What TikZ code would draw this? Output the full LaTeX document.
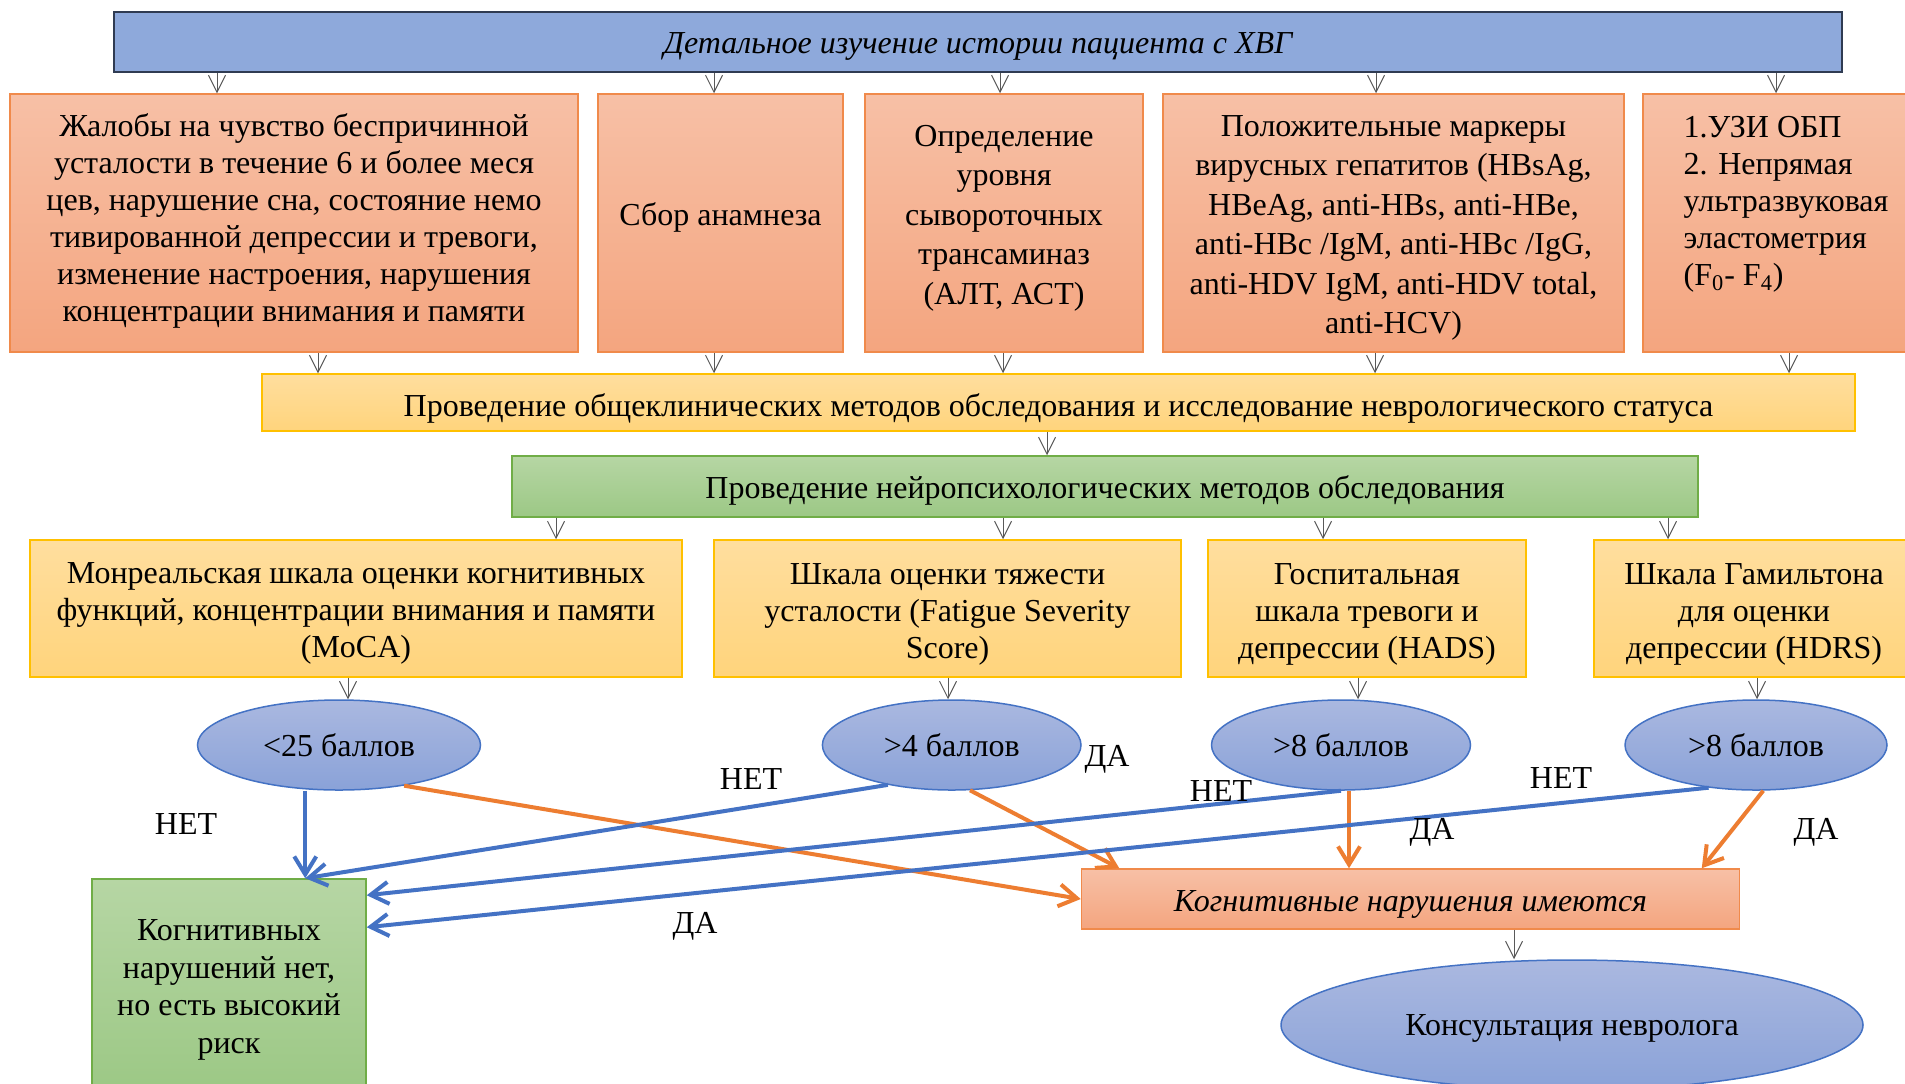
\documentclass[tikz,border=0pt]{standalone}
\usepackage{fontspec}
\setmainfont{Liberation Serif}
\usetikzlibrary{arrows.meta,calc,shapes.geometric}
\definecolor{bluebox}{HTML}{8EA9DB}
\definecolor{blueborder}{HTML}{2F3B52}
\definecolor{orTop}{HTML}{F7C0A6}
\definecolor{orBot}{HTML}{F4A57F}
\definecolor{orBorder}{HTML}{F08A4B}
\definecolor{yeTop}{HTML}{FFDE9E}
\definecolor{yeBot}{HTML}{FFD47C}
\definecolor{yeBorder}{HTML}{FFC000}
\definecolor{grTop}{HTML}{B6D6A4}
\definecolor{grBot}{HTML}{9CC885}
\definecolor{grBorder}{HTML}{70AD47}
\definecolor{elTop}{HTML}{AAB8E0}
\definecolor{elBot}{HTML}{8AA2D8}
\definecolor{elBorder}{HTML}{4472C4}
\definecolor{lineBlue}{HTML}{4472C4}
\definecolor{lineOrange}{HTML}{ED7D31}
\definecolor{arrGray}{HTML}{595959}
\begin{document}
\begin{tikzpicture}[x=0.5pt,y=-0.5pt,
  txt/.style={font=\fontsize{16pt}{18.5pt}\selectfont, align=center, text=black},
  rbox/.style={rectangle, inner sep=0pt, line width=0.75pt, txt, text depth=4pt},
  obox/.style={rbox, draw=orBorder, top color=orTop, bottom color=orBot},
  ybox/.style={rbox, draw=yeBorder, top color=yeTop, bottom color=yeBot},
  gbox/.style={rbox, draw=grBorder, top color=grTop, bottom color=grBot},
  ell/.style={ellipse, inner sep=0pt, draw=elBorder, line width=0.75pt, top color=elTop, bottom color=elBot, txt},
  gar/.style={draw=arrGray, line width=0.5pt, -{Straight Barb[length=8.5pt,width=8.5pt]}},
  bar/.style={draw=lineBlue, line width=2pt, -{Straight Barb[length=9pt,width=11pt]}},
  oar/.style={draw=lineOrange, line width=2pt, -{Straight Barb[length=9pt,width=11pt]}},
  lab/.style={txt, inner sep=0pt}
]
\path[use as bounding box, fill=white] (0,0) rectangle (1905,1083);
\clip (0,0) rectangle (1905,1083);

% top
\node[rbox, draw=blueborder, line width=1pt, fill=bluebox, minimum width=864pt, minimum height=30pt,
      font=\fontsize{16pt}{18.5pt}\selectfont\itshape, text height=15pt] (top) at (978,42) {Детальное изучение истории пациента с ХВГ};

% row 1
\node[obox, minimum width=284pt, minimum height=129pt, text height=102pt] (b1) at (294,223) {Жалобы на чувство беспричинной\\усталости в течение 6 и более меся\\цев, нарушение сна, состояние немо\\тивированной депрессии и тревоги,\\изменение настроения, нарушения\\концентрации внимания и памяти};
\node[obox, minimum width=122.5pt, minimum height=129pt, text height=6pt] (b2) at (720.5,223) {Сбор анамнеза};
\node[obox, minimum width=139pt, minimum height=129pt, font=\fontsize{16pt}{19.75pt}\selectfont, text height=85pt] (b3) at (1004,223) {Определение\\уровня\\сывороточных\\трансаминаз\\(АЛТ, АСТ)};
\node[obox, minimum width=230.5pt, minimum height=129pt, font=\fontsize{16pt}{19.75pt}\selectfont, text height=114.75pt] (b4) at (1393.5,223) {Положительные маркеры\\вирусных гепатитов (HBsAg,\\HBeAg, anti-HBs, anti-HBe,\\anti-HBc /IgM, anti-HBc /IgG,\\anti-HDV IgM, anti-HDV total,\\anti-HCV)};
\node[obox, minimum width=143pt, minimum height=129pt, align=left, text height=66pt] (b5) at (1786,223) {1.УЗИ ОБП\\2. Непрямая\\ультразвуковая\\эластометрия\\(F\textsubscript{0}- F\textsubscript{4})};

% bars
\node[ybox, minimum width=796.5pt, minimum height=28.5pt, text height=18pt] (yb) at (1058.5,402.5) {Проведение общеклинических методов обследования и исследование неврологического статуса};
\node[gbox, minimum width=593pt, minimum height=30.5pt, text height=16pt] (gb) at (1105,486.5) {Проведение нейропсихологических методов обследования};

% row 5
\node[ybox, minimum width=326pt, minimum height=68.5pt, text height=53pt] (s1) at (356,608.5) {Монреальская шкала оценки когнитивных\\функций, концентрации внимания и памяти\\(MoCA)};
\node[ybox, minimum width=233.5pt, minimum height=68.5pt, text height=54pt] (s2) at (947.5,608.5) {Шкала оценки тяжести\\усталости (Fatigue Severity\\Score)};
\node[ybox, minimum width=159pt, minimum height=68.5pt, text height=54pt] (s3) at (1367,608.5) {Госпитальная\\шкала тревоги и\\депрессии (HADS)};
\node[ybox, minimum width=160pt, minimum height=68.5pt, text height=54pt] (s4) at (1754,608.5) {Шкала Гамильтона\\для оценки\\депрессии (HDRS)};

% ellipses
\node[ell, minimum width=141.5pt, minimum height=45pt] (e1) at (339,745) {<25 баллов};
\node[ell, minimum width=129.3pt, minimum height=45pt] (e2) at (951.7,745) {>4 баллов};
\node[ell, minimum width=129.5pt, minimum height=45pt] (e3) at (1341,745) {>8 баллов};
\node[ell, minimum width=131pt, minimum height=45pt] (e4) at (1756,745) {>8 баллов};

% results
\node[obox, minimum width=329pt, minimum height=30pt, font=\fontsize{16pt}{18.5pt}\selectfont\itshape, text height=16pt] (res) at (1410.5,899) {Когнитивные нарушения имеются};
\node[gbox, minimum width=137pt, minimum height=106pt, font=\fontsize{16pt}{18.75pt}\selectfont, text height=72.25pt] (no) at (229,985) {Когнитивных\\нарушений нет,\\но есть высокий\\риск};
\node[ell, minimum width=291pt, minimum height=65pt, text depth=0pt] (cons) at (1572,1025) {Консультация невролога};

% gray connectors
\foreach \xx/\bb in {217/b1, 714/b2, 1000/b3, 1376/b4, 1776/b5}
  \draw[gar] (top.south -| \xx,0) -- (\bb.north -| \xx,0);
\foreach \xx/\bb in {318/b1, 714/b2, 1003/b3, 1375/b4, 1789/b5}
  \draw[gar] (\bb.south -| \xx,0) -- (yb.north -| \xx,0);
\draw[gar] (yb.south -| 1047,0) -- (gb.north -| 1047,0);
\foreach \xx/\bb in {556/s1, 1003/s2, 1323/s3, 1668/s4}
  \draw[gar] (gb.south -| \xx,0) -- (\bb.north -| \xx,0);
\foreach \xx/\bb/\ee in {348/s1/e1, 948/s2/e2, 1358/s3/e3, 1757/s4/e4}
  \draw[gar] (\bb.south -| \xx,0) -- (\ee.north -| \xx,0);
\draw[gar] (res.south -| 1514,0) -- (cons.north -| 1514,0);

% colored connectors
\coordinate (noTop) at ($(no.north west)+(214,0)$);
\coordinate (noR1) at ($(no.north east)+(0,17)$);
\coordinate (noR2) at ($(no.north east)+(0,49)$);
\coordinate (resT1) at ($(res.north west)+(38.5,0)$);
\coordinate (resT2) at ($(res.north east)+(-38.5,0)$);
\coordinate (o3) at ($(e3.south)+(8,0)$);

\draw[oar] (e1.328) -- (res.west);
\draw[oar] (e2.292) -- (resT1);
\draw[oar] (o3) -- (o3 |- res.north);
\draw[oar] (e4.279) -- (resT2);

\draw[bar] (e1.south -| noTop) -- (noTop);
\draw[bar] (e2.212) -- (noTop);
\draw[bar] (e3.south) -- (noR1);
\draw[bar] (e4.222) -- (noR2);

% labels
\node[lab] (l1) at (186,824) {НЕТ};
\node[lab] (l2) at (751,779) {НЕТ};
\node[lab] (l3) at (1107,759) {ДА};
\node[lab] (l4) at (1221,791) {НЕТ};
\node[lab] (l5) at (1561,778) {НЕТ};
\node[lab] (l6) at (1432,832) {ДА};
\node[lab] (l7) at (1816,832) {ДА};
\node[lab] (l8) at (695,926) {ДА};
\end{tikzpicture}
\end{document}
